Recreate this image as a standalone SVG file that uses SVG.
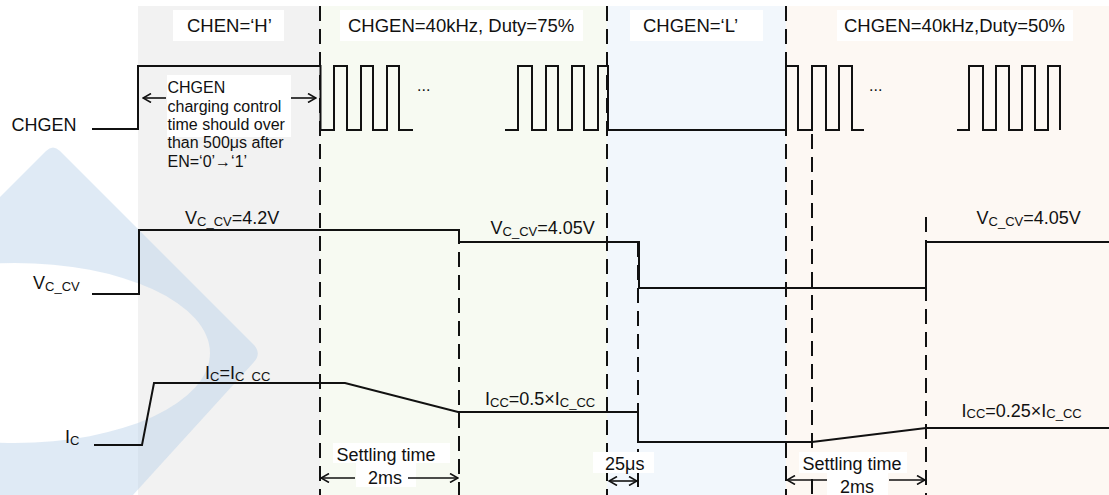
<svg xmlns="http://www.w3.org/2000/svg" width="1109" height="495" viewBox="0 0 1109 495">
<defs>
<style>
text{font-family:"Liberation Sans",Arial,sans-serif;fill:#111}
.t18{font-size:18px}
.t185{font-size:18.5px}
.t16{font-size:16px}
.sub{font-size:13px}
.wave{fill:none;stroke:#111;stroke-width:2;stroke-linejoin:miter}
.dash{fill:none;stroke:#111;stroke-width:2;stroke-dasharray:15 8}
.arr{fill:none;stroke:#111;stroke-width:1.6}
.box{fill:#fff}
</style>
<marker id="ah" viewBox="0 0 10 10" refX="9" refY="5" markerWidth="10" markerHeight="10" markerUnits="userSpaceOnUse" orient="auto-start-reverse">
<path d="M1,0.5 L9,5 L1,9.5" fill="none" stroke="#111" stroke-width="1.6"/>
</marker>
</defs>
<rect width="1109" height="495" fill="#fff"/>
<g id="panels">
<rect x="138" y="6" width="182" height="489" fill="#f2f2f2"/>
<rect x="320" y="6" width="287" height="489" fill="#f7faf2"/>
<rect x="607" y="6" width="179" height="489" fill="#f2f7fc"/>
<rect x="786" y="6" width="323" height="489" fill="#fdf8f3"/>
</g>
<g id="watermark" opacity="0.45">
<path fill="#b9d0e8" fill-rule="evenodd" d="M0,197 L46,151 Q53,144 60,151 L253,344 Q262,353 254,362 L133,495 L0,495 Z M210,353 A195,90 0 1 0 -180,353 A195,90 0 1 0 210,353 Z"/>
</g>
<g id="connectors">
<line class="dash" x1="320" y1="6" x2="320" y2="495"/>
<line class="dash" x1="459" y1="229" x2="459" y2="495"/>
<line class="dash" x1="607" y1="6" x2="607" y2="495"/>
<line class="dash" x1="638" y1="242" x2="638" y2="495"/>
<line class="dash" x1="786" y1="6" x2="786" y2="495"/>
<line class="dash" x1="812" y1="134" x2="812" y2="495"/>
<line class="dash" x1="926" y1="217" x2="926" y2="495"/>
</g>
<g id="chgen">
<path class="wave" d="M92,129 H138 V66 H320.5 V130 H334 V66 H347 V130 H361 V66 H373 V130 H387 V66 H399 V130 H413"/>
<path class="wave" d="M505,130 H518 V66 H532 V130 H546 V66 H558 V130 H572 V66 H584 V130 H598 V66 H608 V130 H786 V66 H798 V130 H812 V66 H826 V130 H839 V66 H852 V130 H864"/>
<path class="wave" d="M957,130 H969 V66 H983 V130 H996 V66 H1009 V130 H1022 V66 H1035 V130 H1048 V66 H1060 V130"/>
<text class="t16" x="417" y="91">...</text>
<text class="t16" x="869" y="91">...</text>
<text class="t18" x="11.5" y="131">CHGEN</text>
</g>
<g id="vccv">
<path class="wave" d="M92,294 H139 V230 H459 V242 H639 V288 H926 V242 H1109"/>
<text class="t18" x="33" y="289">V<tspan class="sub" dy="1.5">C_CV</tspan></text>
<text class="t18" x="185" y="224">V<tspan class="sub" dy="1.5">C_CV</tspan><tspan dy="-1.5">=4.2V</tspan></text>
<text class="t18" x="490.5" y="234">V<tspan class="sub" dy="1.5">C_CV</tspan><tspan dy="-1.5">=4.05V</tspan></text>
<text class="t18" x="976.5" y="224">V<tspan class="sub" dy="1.5">C_CV</tspan><tspan dy="-1.5">=4.05V</tspan></text>
</g>
<g id="ic">
<path class="wave" d="M94,445 H142 L154,383 H345 L458,412 H638 V442 H812 L926,428 H1109"/>
<text class="t18" x="65" y="443">I<tspan class="sub" dy="1.5">C</tspan></text>
<text class="t18" x="205" y="379">I<tspan class="sub" dy="1.5">C</tspan><tspan dy="-1.5">=I</tspan><tspan class="sub" dy="1.5">C_CC</tspan></text>
<text class="t18" x="485" y="405">I<tspan class="sub" dy="1.5">CC</tspan><tspan dy="-1.5">=0.5×I</tspan><tspan class="sub" dy="1.5">C_CC</tspan></text>
<text class="t18" x="961.5" y="416.5">I<tspan class="sub" dy="1.5">CC</tspan><tspan dy="-1.5">=0.25×I</tspan><tspan class="sub" dy="1.5">C_CC</tspan></text>
</g>
<g id="label-chen-h">
<rect class="box" x="173" y="10" width="111" height="31"/>
<text class="t185" x="187" y="31.5">CHEN=‘H’</text>
</g>
<g id="label-duty75">
<rect class="box" x="340" y="10" width="243" height="31"/>
<text class="t185" x="348" y="31.5">CHGEN=40kHz, Duty=75%</text>
</g>
<g id="label-chgen-l">
<rect class="box" x="630" y="10" width="133" height="31"/>
<text class="t185" x="643" y="31.5">CHGEN=‘L’</text>
</g>
<g id="label-duty50">
<rect class="box" x="837" y="10" width="236" height="31"/>
<text class="t185" x="844" y="31.5">CHGEN=40kHz,Duty=50%</text>
</g>
<g id="annotation">
<rect class="box" x="167" y="75" width="124" height="62"/>
<line class="arr" x1="166" y1="98" x2="143" y2="98" marker-end="url(#ah)"/>
<line class="arr" x1="291" y1="98" x2="316" y2="98" marker-end="url(#ah)"/>
<text class="t16" x="167.5" y="93.3">CHGEN</text>
<text class="t16" x="167.5" y="111.6">charging control</text>
<text class="t16" x="167.5" y="129.9">time should over</text>
<text class="t16" x="167.5" y="148.2">than 500μs after</text>
<text class="t16" x="167.5" y="166.5">EN=‘0’→‘1’</text>
</g>
<g id="settle1">
<rect class="box" x="333" y="443" width="117" height="20"/>
<rect class="box" x="356" y="463" width="60" height="24"/>
<text class="t18" x="336.5" y="461">Settling time</text>
<text class="t18" x="368" y="484">2ms</text>
<line class="arr" x1="355" y1="478" x2="321" y2="478" marker-end="url(#ah)"/>
<line class="arr" x1="408" y1="478" x2="458" y2="478" marker-end="url(#ah)"/>
</g>
<g id="settle-25us">
<rect class="box" x="593" y="452" width="61" height="21"/>
<text class="t18" x="605" y="470">25μs</text>
<line class="arr" x1="609" y1="481" x2="637" y2="481" marker-start="url(#ah)" marker-end="url(#ah)"/>
</g>
<g id="settle2">
<rect class="box" x="799" y="452" width="108" height="21"/>
<rect class="box" x="827" y="473" width="61" height="22"/>
<text class="t18" x="802.5" y="470">Settling time</text>
<text class="t18" x="840" y="493">2ms</text>
<line class="arr" x1="827" y1="480" x2="787" y2="480" marker-end="url(#ah)"/>
<line class="arr" x1="889" y1="480" x2="925" y2="480" marker-end="url(#ah)"/>
</g>
</svg>
